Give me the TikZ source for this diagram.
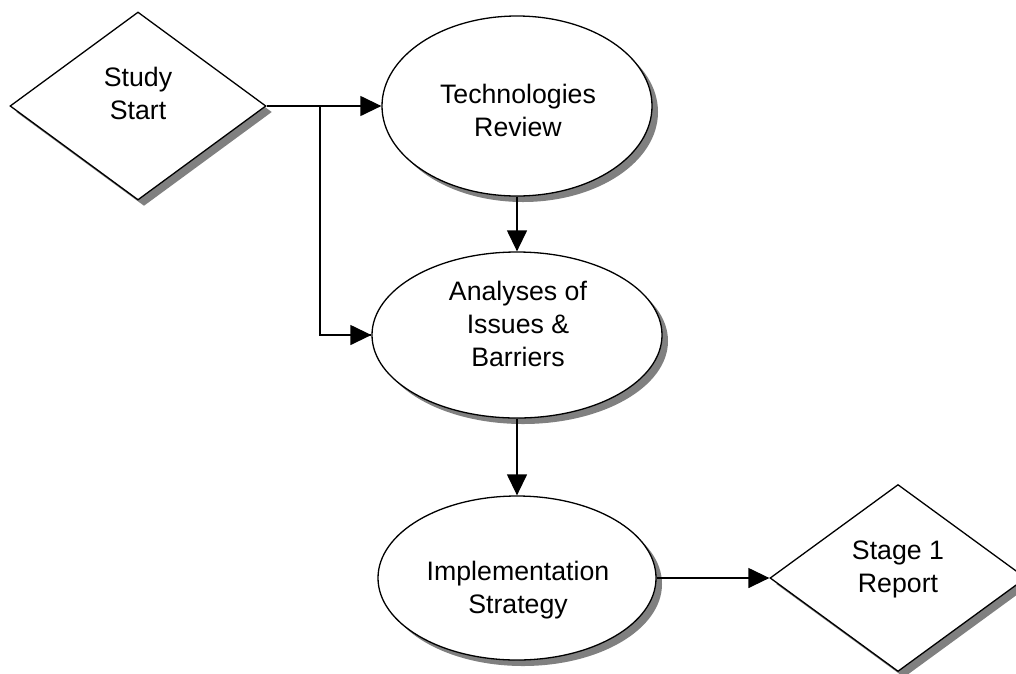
\documentclass[tikz,border=0pt]{standalone}
\usepackage{fontspec}
\setmainfont{Liberation Sans}
\usetikzlibrary{shapes.geometric,arrows.meta,shadows}
\tikzset{
  shp/.style={draw=black, line width=1.3pt, fill=white, inner sep=0pt,
    drop shadow={shadow xshift=6pt, shadow yshift=-6pt, fill=black!50, opacity=1}},
  dia/.style={shp, diamond, minimum width=256pt, minimum height=188pt},
  ell/.style={shp, ellipse},
  lbl/.style={align=center, inner sep=0pt, font=\fontsize{26.7}{33}\selectfont},
  arr/.style={line width=1.3pt, -{Triangle[length=21pt,width=20pt]}},
  ln/.style={line width=1.3pt}
}
\begin{document}
\begin{tikzpicture}[x=1pt,y=-1pt]
\useasboundingbox (0,0) rectangle (1016,673);
\clip (0,0) rectangle (1016,673);
\node[dia] (ss) at (138,106) {};
\node[lbl] (ssT) at (138,93) {Study\\Start};
\node[ell, minimum width=270pt, minimum height=180pt] (tr) at (517,106) {};
\node[lbl] (trT) at (518,110) {Technologies\\Review};
\node[ell, minimum width=290pt, minimum height=166pt] (an) at (517,335) {};
\node[lbl] (anT) at (518,324) {Analyses of\\Issues \&\\Barriers};
\node[ell, minimum width=278pt, minimum height=164pt] (im) at (517,578) {};
\node[lbl] (imT) at (518,590) {Implementation\\Strategy};
\node[dia, minimum height=187pt] (sr) at (898,578) {};
\node[lbl] (srT) at (898,569) {Stage 1\\Report};
\coordinate (br) at (320,106);
\draw[arr] (ss.east) -- (tr.west);
\draw[ln] (br) |- (an.west);
\draw[arr] (br |- an.west) -- (an.west);
\draw[arr] (tr.south) -- (an.north);
\draw[arr] (an.south) -- (im.north);
\draw[arr] (im.east) -- (sr.west);
\end{tikzpicture}
\end{document}
